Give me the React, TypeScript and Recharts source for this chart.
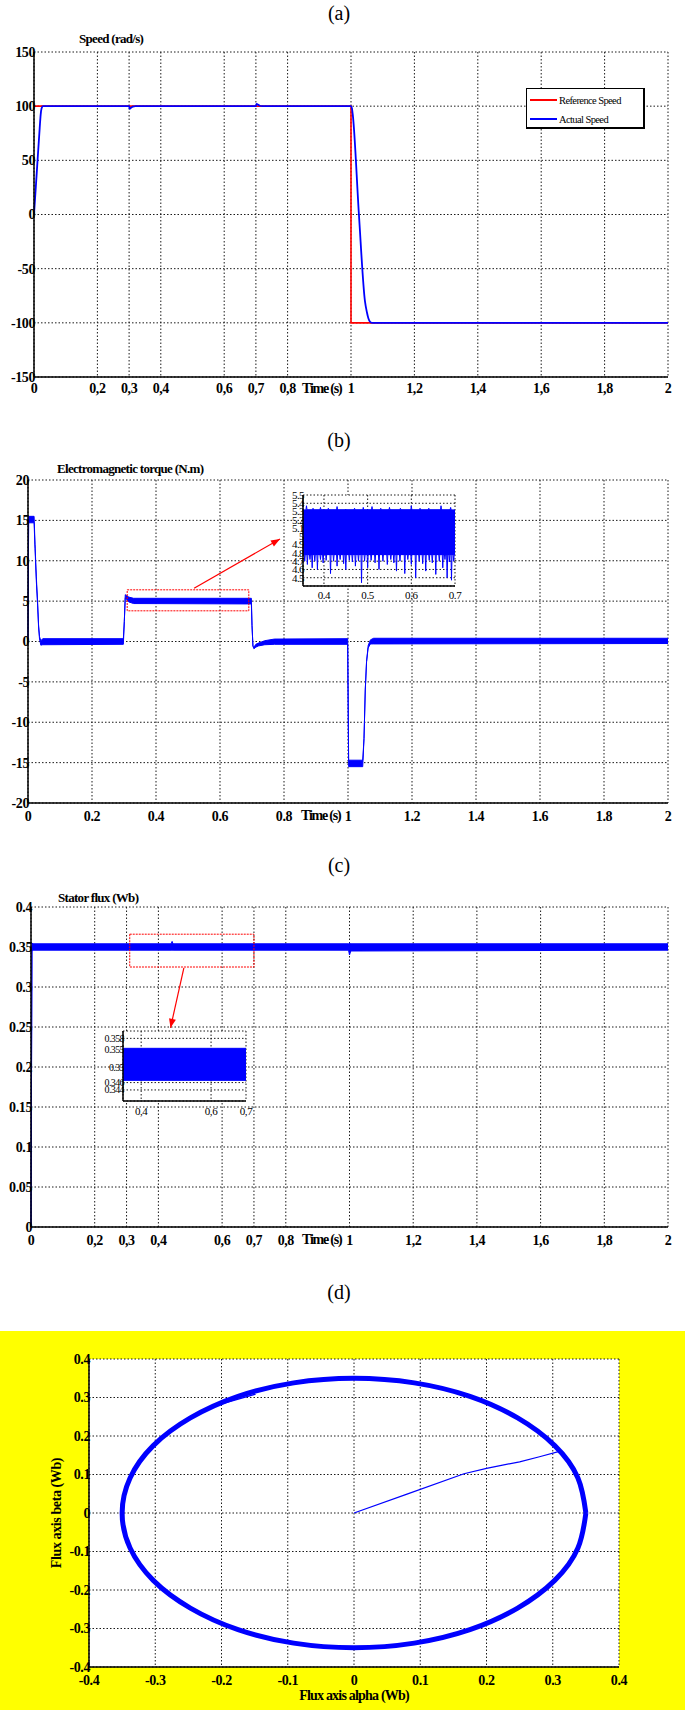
import React from 'react';
import {
  ComposedChart,
  LineChart,
  Line,
  Area,
  XAxis,
  YAxis,
  CartesianGrid,
  ReferenceArea,
  Legend,
} from 'recharts';

const FONT = "'Times New Roman', 'Liberation Serif', 'DejaVu Serif', serif";
const BLUE = '#0000ff';
const RED = '#ff0000';
const GRID = '#1a1a1a';

// ---------- (a) speed ----------
const speedTicksX = [0, 0.2, 0.3, 0.4, 0.6, 0.7, 0.8, 1, 1.2, 1.4, 1.6, 1.8, 2];
const speedTicksY = [-150, -100, -50, 0, 50, 100, 150];
const refSpeedT = [0, 1, 1, 2];
const refSpeedV = [100, 100, -100, -100];
const actSpeedT = [0, 0.009, 0.018, 0.021, 0.024, 0.028, 0.3, 0.302, 0.306, 0.312, 0.32, 0.7, 0.702, 0.706, 0.712, 0.72, 1, 1.003, 1.006, 1.025, 1.044, 1.05, 1.055, 1.06, 1.066, 2];
const actSpeedV = [0, 40, 80, 92, 98, 100, 100, 97.5, 98.5, 99.6, 100, 100, 102, 101.5, 100.4, 100, 100, 98, 91, 0, -80, -90, -96, -99, -100, -100];

// ---------- (b) torque ----------
const torqueTicksX = [0, 0.2, 0.4, 0.6, 0.8, 1, 1.2, 1.4, 1.6, 1.8, 2];
const torqueTicksY = [-20, -15, -10, -5, 0, 5, 10, 15, 20];
const torqueT = [0, 0.002, 0.019, 0.022, 0.026, 0.03, 0.033, 0.036, 0.04, 0.046, 0.298, 0.301, 0.304, 0.308, 0.315, 0.33, 0.698, 0.7, 0.703, 0.706, 0.712, 0.72, 0.74, 0.77, 0.999, 1.002, 1.046, 1.05, 1.054, 1.058, 1.063, 1.07, 1.08, 2];
const torqueLo = [0, 14.7, 14.7, 11.5, 7.5, 4.5, 1.8, 0.3, -0.45, -0.4, -0.35, 2.5, 5.4, 5.2, 4.9, 4.7, 4.65, 2, -0.6, -0.9, -0.7, -0.55, -0.4, -0.35, -0.35, -15.5, -15.5, -12, -6, -2.5, -0.8, -0.3, -0.3, -0.25];
const torqueHi = [0, 15.5, 15.5, 12, 8, 4.9, 2.1, 0.6, 0.1, 0.35, 0.35, 2.5, 5.8, 5.7, 5.5, 5.35, 5.35, 2, -0.6, -0.7, -0.35, -0.2, 0.1, 0.3, 0.35, -14.7, -14.7, -12, -6, -2.5, -0.5, 0.2, 0.4, 0.4];
const torqueBoxT = [0.31, 0.69];
const torqueBoxV = [3.8, 6.4];
const torqueArrow = [{ t: 0.519, v: 6.6 }, { t: 0.7875, v: 12.7 }];

// torque zoom
const tzTicksX = [0.4, 0.5, 0.6, 0.7];
const tzTicksY = [4.5, 4.6, 4.7, 4.8, 4.9, 5, 5.1, 5.2, 5.3, 5.4, 5.5];
const tzT = [0.352, 0.7];
const tzLo = [4.78, 4.78];
const tzHi = [5.32, 5.32];
const tzDipT = [0.356, 0.362, 0.368, 0.373, 0.379, 0.385, 0.392, 0.398, 0.405, 0.415, 0.422, 0.43, 0.437, 0.445, 0.45, 0.458, 0.465, 0.472, 0.479, 0.486, 0.493, 0.5, 0.508, 0.517, 0.526, 0.535, 0.545, 0.553, 0.56, 0.566, 0.574, 0.585, 0.592, 0.6, 0.61, 0.618, 0.626, 0.633, 0.641, 0.648, 0.656, 0.664, 0.672, 0.677, 0.682, 0.687, 0.692, 0.697];
const tzDipV = [4.7, 4.66, 4.72, 4.62, 4.7, 4.6, 4.72, 4.68, 4.71, 4.55, 4.7, 4.64, 4.72, 4.67, 4.6, 4.71, 4.69, 4.64, 4.7, 4.44, 4.7, 4.62, 4.71, 4.68, 4.6, 4.7, 4.66, 4.72, 4.68, 4.58, 4.7, 4.55, 4.72, 4.66, 4.5, 4.7, 4.67, 4.58, 4.71, 4.68, 4.54, 4.7, 4.62, 4.72, 4.5, 4.69, 4.47, 4.7];
const tzPeakT = [0.36, 0.375, 0.392, 0.41, 0.43, 0.45, 0.47, 0.49, 0.51, 0.53, 0.55, 0.575, 0.6, 0.62, 0.64, 0.668, 0.69];
const tzPeakV = [5.37, 5.34, 5.35, 5.34, 5.36, 5.33, 5.34, 5.35, 5.36, 5.34, 5.35, 5.34, 5.37, 5.34, 5.34, 5.37, 5.35];

// ---------- (c) stator flux ----------
const fluxTicksY = [0, 0.05, 0.1, 0.15, 0.2, 0.25, 0.3, 0.35, 0.4];
const fluxT = [0, 0.003, 0.006, 0.44, 0.443, 0.446, 0.997, 1, 1.004, 2];
const fluxLo = [0, 0.345, 0.346, 0.346, 0.346, 0.346, 0.346, 0.34, 0.345, 0.346];
const fluxHi = [0, 0.355, 0.354, 0.354, 0.357, 0.354, 0.354, 0.355, 0.354, 0.354];
const fluxBoxT = [0.31, 0.7];
const fluxBoxV = [0.325, 0.366];
const fluxArrow = [{ t: 0.48, v: 0.324 }, { t: 0.438, v: 0.249 }];

// flux zoom
const fzTicksX = [0.4, 0.6, 0.7];
const fzTicksY = [0.344, 0.346, 0.35, 0.355, 0.358];
const fzT = [0.348, 0.7];
const fzLo = [0.3466, 0.3466];
const fzHi = [0.3553, 0.3553];

// ---------- (d) flux locus ----------
const circTicks = [-0.4, -0.3, -0.2, -0.1, 0, 0.1, 0.2, 0.3, 0.4];
const locusAlpha = [0.35, 0.338, 0.303, 0.247, 0.175, 0.091, 0, -0.091, -0.175, -0.247, -0.303, -0.338, -0.35, -0.338, -0.303, -0.247, -0.175, -0.091, 0, 0.091, 0.175, 0.247, 0.303, 0.338, 0.35];
const locusBeta = [0, 0.091, 0.175, 0.247, 0.303, 0.338, 0.35, 0.338, 0.303, 0.247, 0.175, 0.091, 0, -0.091, -0.175, -0.247, -0.303, -0.338, -0.35, -0.338, -0.303, -0.247, -0.175, -0.091, 0];
const startAlpha = [0, 0.08, 0.166, 0.2, 0.215, 0.25, 0.28, 0.31];
const startBeta = [0, 0.049, 0.102, 0.116, 0.121, 0.133, 0.146, 0.16];
const kinkAlpha = [-0.205, -0.15, -0.155];
const kinkBeta = [0.281, 0.308, 0.313];

const zip = (ts: number[], vs: number[]) => ts.map((t, i) => ({ t, v: vs[i] }));
const band = (ts: number[], lo: number[], hi: number[]) => ts.map((t, i) => ({ t, band: [lo[i], hi[i]] }));
const spikes = (ts: number[], vs: number[], base: number) =>
  ts.flatMap((t, i) => [
    { t: t - 0.0012, v: base },
    { t, v: vs[i] },
    { t: t + 0.0012, v: base },
  ]);

const refSpeed = zip(refSpeedT, refSpeedV);
const actSpeed = zip(actSpeedT, actSpeedV);
const torqueRows = band(torqueT, torqueLo, torqueHi);
const tzRows = band(tzT, tzLo, tzHi);
const fluxRows = band(fluxT, fluxLo, fluxHi);
const fzRows = band(fzT, fzLo, fzHi);
const locus = locusAlpha.map((x, i) => ({ x, y: locusBeta[i] }));
const startup = startAlpha.map((x, i) => ({ x, y: startBeta[i] }));
const kink = kinkAlpha.map((x, i) => ({ x, y: kinkBeta[i] }));

const comma = (v: number) => String(v).replace('.', ',');
const plain = (v: number) => String(v);

const xTick = (fmt: (v: number) => string, size = 14, bold = true, dy = 16) => (p: any) => (
  <text x={p.x} y={p.y} dy={dy} textAnchor="middle" fontFamily={FONT} fontSize={size}
    fontWeight={bold ? 'bold' : 'normal'} letterSpacing={-0.4} fill="#000">
    {fmt(p.payload.value)}
  </text>
);
const yTick = (fmt: (v: number) => string, size = 14, bold = true) => (p: any) => (
  <text x={p.x + 1} y={p.y} dy={size * 0.35} textAnchor="end" fontFamily={FONT} fontSize={size}
    fontWeight={bold ? 'bold' : 'normal'} letterSpacing={bold ? -0.4 : -0.6} fill="#000">
    {fmt(p.payload.value)}
  </text>
);

const axisLine = { stroke: '#000', strokeWidth: 1.5 };

const boxAxes = (dx: number[]) => [
  <XAxis key="top" xAxisId="top" orientation="top" type="number" domain={dx} height={0}
    tick={false} tickLine={false} axisLine={axisLine} />,
  <YAxis key="right" yAxisId="right" orientation="right" type="number" domain={[0, 1]} width={0}
    tick={false} tickLine={false} axisLine={axisLine} />,
];

const arrowHead = (a: { t: number; v: number }, b: { t: number; v: number }, sx: number, sy: number) => {
  const ang = Math.atan2(-(b.v - a.v) * sy, (b.t - a.t) * sx);
  return (p: any) => {
    const { cx, cy, index } = p;
    if (index !== 1 || cx == null) return <g key={`d${index}`} />;
    const len = 9;
    const half = 3.5;
    const ca = Math.cos(ang);
    const sa = Math.sin(ang);
    const bx = cx - len * ca;
    const by = cy - len * sa;
    const pts = `${cx},${cy} ${bx - half * sa},${by + half * ca} ${bx + half * sa},${by - half * ca}`;
    return <polygon key={`d${index}`} points={pts} fill={RED} />;
  };
};

const Caption = ({ x, y, children, size = 13, bold = true, spacing = -0.7, center = false, rotate = false }: any) => (
  <div
    style={{
      position: 'absolute',
      left: x,
      top: y,
      transform: `translate(${center ? '-50%' : '0'}, -50%)${rotate ? ' rotate(-90deg)' : ''}`,
      whiteSpace: 'nowrap',
      lineHeight: 1,
      fontFamily: FONT,
      fontSize: size,
      fontWeight: bold ? 'bold' : 'normal',
      letterSpacing: spacing,
      color: '#000',
      zIndex: 5,
    }}
  >
    {children}
  </div>
);

const legendItems = [
  { name: 'Reference Speed', color: RED },
  { name: 'Actual Speed', color: BLUE },
];

const SpeedLegend = () => (
  <div
    style={{
      width: 116,
      height: 38,
      border: '1px solid #000',
      borderRightWidth: 2,
      borderBottomWidth: 2,
      background: '#fff',
      position: 'relative',
      fontFamily: FONT,
      fontSize: 10.5,
      letterSpacing: -0.6,
    }}
  >
    {legendItems.map((it, i) => (
      <div key={it.name} style={{ position: 'absolute', left: 3, top: 5 + i * 19, display: 'flex', alignItems: 'center', height: 12 }}>
        <div style={{ width: 27, height: 1.5, background: it.color, marginRight: 2 }} />
        <span>{it.name}</span>
      </div>
    ))}
  </div>
);

const SpeedChart = () => (
  <LineChart width={685} height={420} margin={{ top: 52, right: 17, bottom: 0, left: 0 }}>
    <CartesianGrid stroke={GRID} strokeDasharray="1.5 2" fill="#fff" />
    <XAxis type="number" dataKey="t" domain={[0, 2]} ticks={speedTicksX} interval={0} height={43} tickSize={0} tickMargin={0}
      tick={xTick(comma, 14, true, 16)} tickLine={false} axisLine={axisLine} />
    <YAxis type="number" domain={[-150, 150]} ticks={speedTicksY} interval={0} width={34} tickSize={0} tickMargin={0}
      tick={yTick(plain)} tickLine={false} axisLine={axisLine} />
    {boxAxes([0, 2])}
    <Line data={refSpeed} dataKey="v" type="linear" stroke={RED} strokeWidth={1.6} dot={false} isAnimationActive={false} />
    <Line data={actSpeed} dataKey="v" type="monotone" stroke={BLUE} strokeWidth={1.8} dot={false} isAnimationActive={false} />
    <Legend layout="horizontal" verticalAlign="middle" align="center" content={() => <SpeedLegend />}
      wrapperStyle={{ left: 526, top: 88, width: 119, height: 41, margin: 0, padding: 0 }} />
  </LineChart>
);

const TorqueChart = () => (
  <ComposedChart width={685} height={420} data={torqueRows} margin={{ top: 60, right: 17, bottom: 0, left: 0 }}>
    <CartesianGrid stroke={GRID} strokeDasharray="1.5 2" fill="#fff" />
    <XAxis type="number" dataKey="t" domain={[0, 2]} ticks={torqueTicksX} interval={0} height={37} tickSize={0} tickMargin={0}
      tick={xTick(plain, 14, true, 18)} tickLine={false} axisLine={axisLine} />
    <YAxis type="number" domain={[-20, 20]} ticks={torqueTicksY} interval={0} width={28} tickSize={0} tickMargin={0}
      tick={yTick(plain)} tickLine={false} axisLine={axisLine} />
    {boxAxes([0, 2])}
    <Area dataKey="band" type="linear" stroke={BLUE} strokeWidth={1} fill={BLUE} fillOpacity={1} isAnimationActive={false} />
    <ReferenceArea x1={torqueBoxT[0]} x2={torqueBoxT[1]} y1={torqueBoxV[0]} y2={torqueBoxV[1]}
      fill="none" fillOpacity={0} stroke={RED} strokeDasharray="2 1" strokeWidth={1} />
    <Line data={torqueArrow} dataKey="v" type="linear" stroke={RED} strokeWidth={1.2}
      dot={arrowHead(torqueArrow[0], torqueArrow[1], 320, 323 / 40)} activeDot={false} isAnimationActive={false} />
  </ComposedChart>
);

const TorqueZoom = () => (
  <ComposedChart width={200} height={120} data={tzRows} margin={{ top: 10, right: 15, bottom: 0, left: 0 }}>
    <CartesianGrid stroke={GRID} strokeDasharray="1.5 2" fill="#fff" />
    <XAxis type="number" dataKey="t" domain={[0.352, 0.7]} ticks={tzTicksX} interval={0} height={19} tickSize={0} tickMargin={0}
      tick={xTick(plain, 11, false, 13)} tickLine={false} axisLine={axisLine} />
    <YAxis type="number" domain={[4.4, 5.5]} ticks={tzTicksY} interval={0} width={33} tickSize={0} tickMargin={0}
      tick={yTick(plain, 11, false)} tickLine={false} axisLine={axisLine} />
    {boxAxes([0.352, 0.7])}
    <Area dataKey="band" type="linear" stroke={BLUE} strokeWidth={1} fill={BLUE} fillOpacity={1} isAnimationActive={false} />
    <Line data={spikes(tzDipT, tzDipV, 4.78)} dataKey="v" type="linear" stroke={BLUE} strokeWidth={1} dot={false} isAnimationActive={false} />
    <Line data={spikes(tzPeakT, tzPeakV, 5.32)} dataKey="v" type="linear" stroke={BLUE} strokeWidth={1} dot={false} isAnimationActive={false} />
  </ComposedChart>
);

const FluxChart = () => (
  <ComposedChart width={685} height={420} data={fluxRows} margin={{ top: 67, right: 17, bottom: 0, left: 0 }}>
    <CartesianGrid stroke={GRID} strokeDasharray="1.5 2" fill="#fff" />
    <XAxis type="number" dataKey="t" domain={[0, 2]} ticks={speedTicksX} interval={0} height={33} tickSize={0} tickMargin={0}
      tick={xTick(comma, 14, true, 18)} tickLine={false} axisLine={axisLine} />
    <YAxis type="number" domain={[0, 0.4]} ticks={fluxTicksY} interval={0} width={31} tickSize={0} tickMargin={0}
      tick={yTick(plain)} tickLine={false} axisLine={axisLine} />
    {boxAxes([0, 2])}
    <Area dataKey="band" type="linear" stroke={BLUE} strokeWidth={1} fill={BLUE} fillOpacity={1} isAnimationActive={false} />
    <ReferenceArea x1={fluxBoxT[0]} x2={fluxBoxT[1]} y1={fluxBoxV[0]} y2={fluxBoxV[1]}
      fill="none" fillOpacity={0} stroke={RED} strokeDasharray="2 1" strokeWidth={1} />
    <Line data={fluxArrow} dataKey="v" type="linear" stroke={RED} strokeWidth={1.2}
      dot={arrowHead(fluxArrow[0], fluxArrow[1], 318.5, 800)} activeDot={false} isAnimationActive={false} />
  </ComposedChart>
);

const FluxZoom = () => (
  <ComposedChart width={170} height={100} data={fzRows} margin={{ top: 10, right: 14, bottom: 0, left: 0 }}>
    <CartesianGrid stroke={GRID} strokeDasharray="1.5 2" fill="#fff" />
    <XAxis type="number" dataKey="t" domain={[0.348, 0.7]} ticks={fzTicksX} interval={0} height={20} tickSize={0} tickMargin={0}
      tick={xTick(comma, 11, false, 14)} tickLine={false} axisLine={axisLine} />
    <YAxis type="number" domain={[0.341, 0.36]} ticks={fzTicksY} interval={0} width={33} tickSize={0} tickMargin={0}
      tick={yTick(plain, 10, false)} tickLine={false} axisLine={axisLine} />
    {boxAxes([0.348, 0.7])}
    <Area dataKey="band" type="linear" stroke={BLUE} strokeWidth={1} fill={BLUE} fillOpacity={1} isAnimationActive={false} />
  </ComposedChart>
);

const LocusChart = () => (
  <LineChart width={685} height={450} margin={{ top: 99, right: 66, bottom: 0, left: 0 }}>
    <CartesianGrid stroke={GRID} strokeDasharray="1.5 2" fill="#fff" />
    <XAxis type="number" dataKey="x" domain={[-0.4, 0.4]} ticks={circTicks} interval={0} height={43} tickSize={0} tickMargin={0}
      tick={xTick(plain, 14, true, 18)} tickLine={false} axisLine={axisLine} />
    <YAxis type="number" dataKey="y" domain={[-0.4, 0.4]} ticks={circTicks} interval={0} width={89} tickSize={0} tickMargin={0}
      tick={yTick(plain)} tickLine={false} axisLine={axisLine} />
    {boxAxes([-0.4, 0.4])}
    <Line data={locus} dataKey="y" type="natural" stroke={BLUE} strokeWidth={5} dot={false} isAnimationActive={false} />
    <Line data={startup} dataKey="y" type="linear" stroke={BLUE} strokeWidth={1.2} dot={false} isAnimationActive={false} />
    <Line data={kink} dataKey="y" type="linear" stroke={BLUE} strokeWidth={1.2} dot={false} isAnimationActive={false} />
  </LineChart>
);

export default function App() {
  return (
    <div style={{ position: 'absolute', left: 0, top: 0, width: 685, height: 1710, background: '#fff', overflow: 'hidden' }}>
      <div style={{ position: 'absolute', left: 0, top: 0 }}><SpeedChart /></div>
      <div style={{ position: 'absolute', left: 0, top: 420 }}><TorqueChart /></div>
      <div style={{ position: 'absolute', left: 270, top: 485 }}><TorqueZoom /></div>
      <div style={{ position: 'absolute', left: 0, top: 840 }}><FluxChart /></div>
      <div style={{ position: 'absolute', left: 90, top: 1021 }}><FluxZoom /></div>
      <div style={{ position: 'absolute', left: 0, top: 1331, width: 685, height: 379, background: '#ffff00' }} />
      <div style={{ position: 'absolute', left: 0, top: 1260 }}><LocusChart /></div>

      <Caption x={339} y={13} size={20} bold={false} spacing={0} center>(a)</Caption>
      <Caption x={79} y={38}>Speed (rad/s)</Caption>
      <Caption x={302} y={389} size={14} spacing={-1.2}>Time (s)</Caption>

      <Caption x={339} y={440} size={20} bold={false} spacing={0} center>(b)</Caption>
      <Caption x={57} y={468}>Electromagnetic torque (N.m)</Caption>
      <Caption x={301} y={816} size={14} spacing={-1.2}>Time (s)</Caption>

      <Caption x={339} y={865} size={20} bold={false} spacing={0} center>(c)</Caption>
      <Caption x={58} y={897}>Stator flux (Wb)</Caption>
      <Caption x={302} y={1240} size={14} spacing={-1.2}>Time (s)</Caption>

      <Caption x={339} y={1292} size={20} bold={false} spacing={0} center>(d)</Caption>
      <Caption x={354} y={1696} size={14} spacing={-0.8} center>Flux axis alpha (Wb)</Caption>
      <Caption x={57} y={1513} size={14} spacing={-0.4} center rotate>Flux axis beta (Wb)</Caption>
    </div>
  );
}
